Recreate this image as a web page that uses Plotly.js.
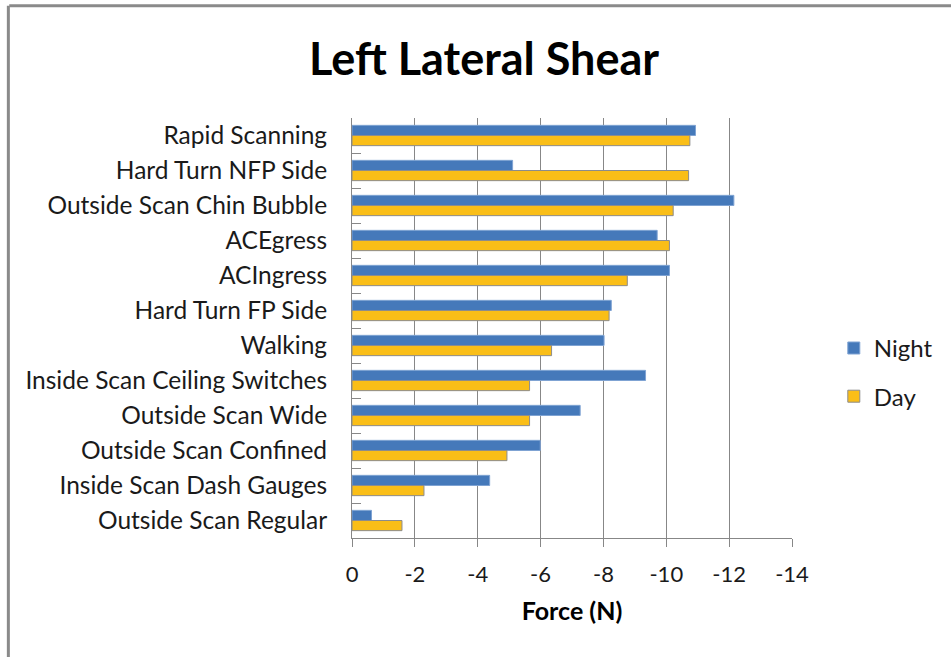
<!DOCTYPE html>
<html>
<head>
<meta charset="utf-8">
<script src="https://cdn.plot.ly/plotly-3.0.1.min.js"></script>
<style>html,body{margin:0;padding:0;background:#fff;}#chart{width:951px;height:657px;}</style>
</head>
<body>
<div id="chart"></div>
<script>
const categories = [
  "Rapid Scanning",
  "Hard Turn NFP Side",
  "Outside Scan Chin Bubble",
  "ACEgress",
  "ACIngress",
  "Hard Turn FP Side",
  "Walking",
  "Inside Scan Ceiling Switches",
  "Outside Scan Wide",
  "Outside Scan Confined",
  "Inside Scan Dash Gauges",
  "Outside Scan Regular"
];
const nightValues = [-10.93, -5.11, -12.15, -9.71, -10.10, -8.25, -8.02, -9.34, -7.26, -5.99, -4.38, -0.62];
const dayValues   = [-10.75, -10.71, -10.22, -10.10, -8.76, -8.18, -6.35, -5.65, -5.65, -4.93, -2.29, -1.59];
const xTickValues = [0, -2, -4, -6, -8, -10, -12, -14];
const xTickLabels = ["0", "-2", "-4", "-6", "-8", "-10", "-12", "-14"];

const FONT = "Lato, 'Open Sans', sans-serif";
const GRID = "#878787";

const traces = [
  {
    type: "bar", orientation: "h", name: "Night",
    y: categories, x: nightValues,
    marker: {color: "#4579BA", line: {color: "#7FA3D3", width: 1}},
    legendgroup: "n"
  },
  {
    type: "bar", orientation: "h", name: "Day",
    y: categories, x: dayValues,
    marker: {color: "#FABE17", line: {color: "#8C8C8C", width: 1}},
    legendgroup: "d"
  }
];

const layout = {
  width: 951, height: 657,
  paper_bgcolor: "#fff", plot_bgcolor: "#fff",
  margin: {l: 352, r: 159, t: 118, b: 119, pad: 0},
  font: {family: FONT, size: 21, color: "#1a1a1a"},
  title: {
    text: "<b>Left Lateral Shear</b>",
    font: {family: FONT, size: 45, color: "#000"},
    x: 0.509, xanchor: "center", y: 0.91, yanchor: "middle"
  },
  barmode: "group",
  bargap: 0.42,
  bargroupgap: 0,
  xaxis: {
    range: [0, -14],
    tickvals: xTickValues, ticktext: xTickLabels,
    showgrid: true, gridcolor: GRID, gridwidth: 1,
    zeroline: false,
    showline: true, linecolor: GRID, linewidth: 1,
    ticks: "outside", ticklen: 8, tickcolor: GRID,
    ticklabelstandoff: 9,
    tickfont: {family: FONT, size: 22, color: "#1a1a1a"},
    title: {text: "<b>Force (N)</b>", font: {family: FONT, size: 25, color: "#000"}, standoff: 16}
  },
  yaxis: {
    autorange: "reversed",
    showgrid: false, zeroline: false,
    showline: true, linecolor: GRID, linewidth: 1,
    ticks: "inside", ticklen: 9, tickcolor: GRID,
    tickson: "boundaries",
    ticklabelstandoff: 19,
    tickfont: {family: FONT, size: 24.5, color: "#1a1a1a"}
  },
  legend: {
    x: 1.095, xanchor: "left", y: 0.505, yanchor: "top",
    traceorder: "grouped", tracegroupgap: 14,
    font: {family: FONT, size: 24, color: "#1a1a1a"},
    bgcolor: "rgba(0,0,0,0)"
  },
  shapes: [
    {type: "line", xref: "paper", yref: "paper", x0: -0.779, x1: 1.5, y0: 1.267, y1: 1.267, line: {color: "#8A8A8A", width: 3}},
    {type: "line", xref: "paper", yref: "paper", x0: -0.781, x1: -0.781, y0: 1.267, y1: -0.3, line: {color: "#8A8A8A", width: 3}}
  ]
};

Plotly.newPlot("chart", traces, layout, {displayModeBar: false, staticPlot: true});
</script>
</body>
</html>
